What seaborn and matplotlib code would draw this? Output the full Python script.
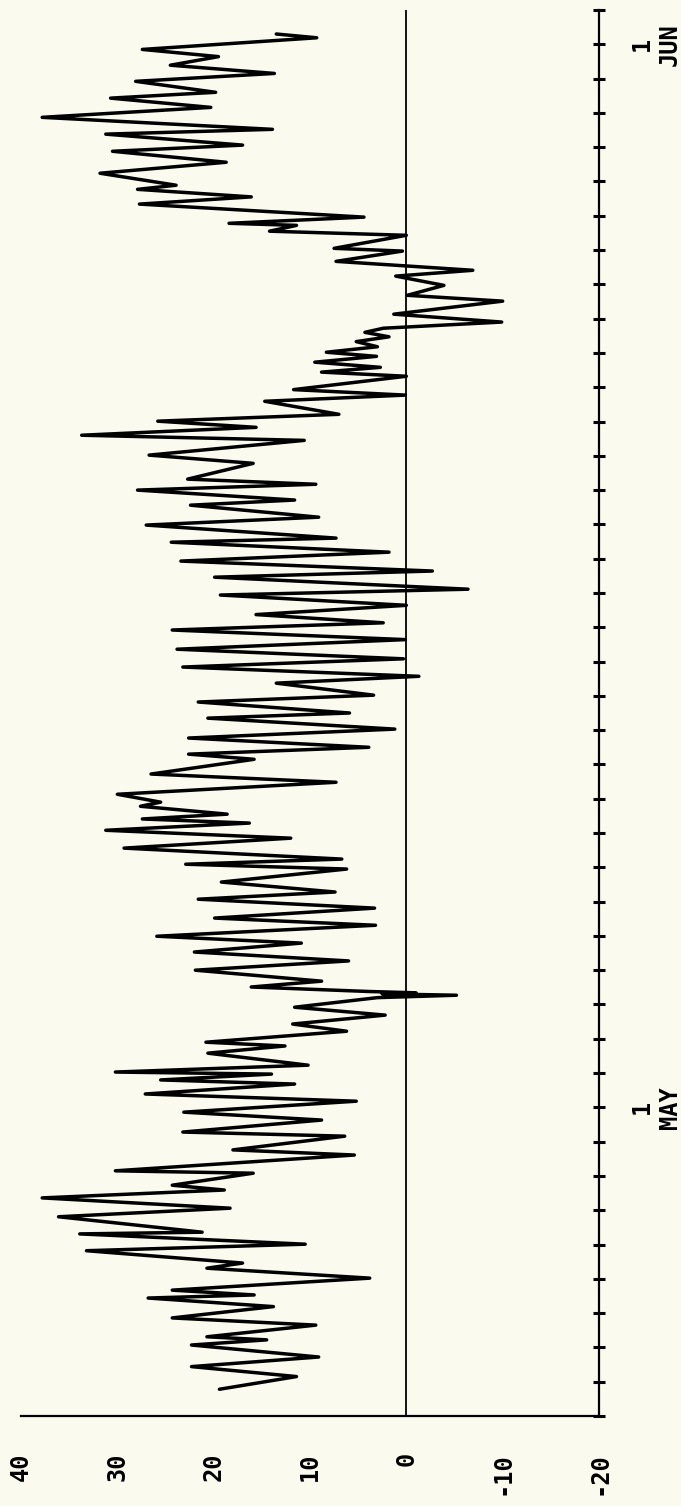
import numpy as np
import pandas as pd
import matplotlib
matplotlib.use("Agg")
import matplotlib.pyplot as plt
import seaborn as sns

# ---- data (days since 22 April 00:00, value) ----
days = [0.78, 1.15, 1.44, 1.72, 2.07, 2.22, 2.31, 2.65, 2.86, 3.19,
        3.44, 3.53, 3.67, 4.02, 4.31, 4.46, 4.82, 5.01, 5.31, 5.36,
        5.81, 6.06, 6.36, 6.59, 6.73, 7.08, 7.15, 7.61, 7.76, 8.16,
        8.28, 8.63, 8.86, 9.18, 9.39, 9.68, 9.80, 9.97, 10.03, 10.23,
        10.58, 10.79, 10.90, 11.22, 11.43, 11.69, 11.92, 12.20, 12.27, 12.31,
        12.34, 12.38, 12.51, 12.68, 13.00, 13.27, 13.53, 13.79, 13.99, 14.31,
        14.52, 14.81, 15.07, 15.28, 15.57, 15.95, 16.09, 16.24, 16.56, 16.85,
        17.08, 17.29, 17.41, 17.55, 17.78, 17.90, 18.13, 18.48, 18.72, 19.15,
        19.30, 19.50, 19.77, 20.03, 20.35, 20.50, 20.82, 21.02, 21.37, 21.57,
        21.84, 22.08, 22.36, 22.64, 22.92, 23.13, 23.37, 23.64, 23.94, 24.11,
        24.46, 24.64, 24.93, 25.19, 25.48, 25.60, 25.98, 26.21, 26.56, 26.71,
        27.00, 27.17, 27.32, 27.78, 28.02, 28.45, 28.60, 28.83, 29.01, 29.21,
        29.59, 29.77, 29.93, 30.32, 30.44, 30.58, 30.73, 30.90, 31.02, 31.18,
        31.33, 31.47, 31.60, 31.72, 31.90, 32.13, 32.51, 32.68, 32.97, 33.24,
        33.41, 33.67, 33.97, 34.05, 34.43, 34.55, 34.72, 34.78, 34.96, 35.34,
        35.55, 35.77, 35.89, 36.24, 36.56, 36.88, 37.06, 37.38, 37.52, 37.87,
        38.16, 38.43, 38.60, 38.92, 39.15, 39.39, 39.64, 39.85, 40.19, 40.30]
values = [19.4, 11.4, 22.3, 9.1, 22.3, 14.5, 20.7, 9.4, 24.3, 13.8,
          26.8, 15.8, 24.3, 3.8, 20.7, 17.0, 33.2, 10.5, 33.9, 21.2,
          36.1, 18.3, 37.8, 18.9, 24.3, 15.9, 30.2, 5.4, 18.0, 6.4,
          23.2, 8.8, 23.1, 5.2, 27.1, 11.6, 25.5, 14.0, 30.2, 10.2,
          20.6, 12.6, 20.8, 6.2, 11.8, 2.2, 11.6, 3.0, -5.2, 2.5,
          -1.0, 4.0, 16.1, 8.8, 21.9, 6.0, 22.0, 10.9, 25.9, 3.2,
          19.9, 3.3, 21.6, 7.4, 19.2, 6.2, 22.9, 6.7, 29.3, 12.0,
          31.2, 16.3, 27.4, 18.6, 27.6, 25.5, 30.0, 7.3, 26.5, 15.8,
          22.6, 3.9, 22.6, 1.2, 20.6, 5.9, 21.6, 3.4, 13.5, -1.3,
          23.2, 0.3, 23.8, 0.1, 24.3, 2.4, 15.6, 0.0, 19.3, -6.4,
          19.9, -2.7, 23.4, 1.8, 24.4, 7.3, 27.0, 9.1, 22.4, 11.6,
          27.9, 9.4, 22.7, 15.9, 26.7, 10.6, 33.7, 15.6, 25.8, 7.0,
          14.7, 0.1, 11.7, 0.0, 8.8, 2.7, 9.5, 3.1, 8.3, 3.0,
          5.2, 1.8, 4.3, 2.4, -9.9, 1.3, -10.0, -0.1, -3.9, 1.1,
          -6.9, 7.3, 0.4, 7.5, 0.0, 14.2, 11.4, 18.4, 4.4, 27.7,
          16.1, 27.9, 23.9, 31.8, 18.7, 30.5, 17.0, 31.2, 13.9, 37.8,
          20.3, 30.7, 19.8, 28.1, 13.7, 24.5, 19.5, 27.4, 9.3, 13.5]

value_ticks = [40, 30, 20, 10, 0, -10, -20]
value_labels = ["40", "30", "20", "10", "0", "-10", "-20"]
day_ticks = list(range(0, 42))
month_labels = {9: "1\nMAY", 40: "1\nJUN"}

# ---- style ----
sns.set_theme(style="white")
plt.rcParams["font.family"] = ["DejaVu Sans Mono", "DejaVu Sans"]
bg = "#fbfaef"

W, H = 681, 1506
fig = plt.figure(figsize=(W / 100, H / 100), dpi=100, facecolor=bg)
ax = fig.add_axes([21 / W, (H - 1416) / H, (599 - 21) / W, (1416 - 10) / H])
ax.set_facecolor(bg)

df = pd.DataFrame({"day": days, "value": values})
sns.lineplot(data=df, x="value", y="day", orient="y", sort=False,
             estimator=None, color="black", lw=2.5, ax=ax)
ax.axvline(0, color="black", lw=1.3, zorder=1)

ax.set_xlim(40, -20)
ax.set_ylim(0, 41)
ax.set_xlabel("")
ax.set_ylabel("")

for s in ["left", "top"]:
    ax.spines[s].set_visible(False)
for s in ["bottom", "right"]:
    ax.spines[s].set_color("black")
    ax.spines[s].set_linewidth(1.6)

ax.set_xticks(value_ticks)
ax.set_xticklabels(value_labels)
ax.yaxis.tick_right()
ax.set_yticks(day_ticks)
ax.set_yticklabels([month_labels.get(d, "") for d in day_ticks])

ax.tick_params(axis="x", direction="inout", length=8, width=1.4,
               color="black", pad=22, labelsize=17, labelrotation=90,
               labelcolor="black")
ax.tick_params(axis="y", direction="inout", length=9, width=2.2,
               color="black", pad=18, labelsize=17, labelrotation=90,
               labelcolor="black", right=True, left=False)
for t in ax.get_xticklabels() + ax.get_yticklabels():
    t.set_fontweight("bold")
for t in ax.get_yticklabels():
    t.set_multialignment("center")

fig.savefig("out.png", dpi=100, facecolor=bg)
